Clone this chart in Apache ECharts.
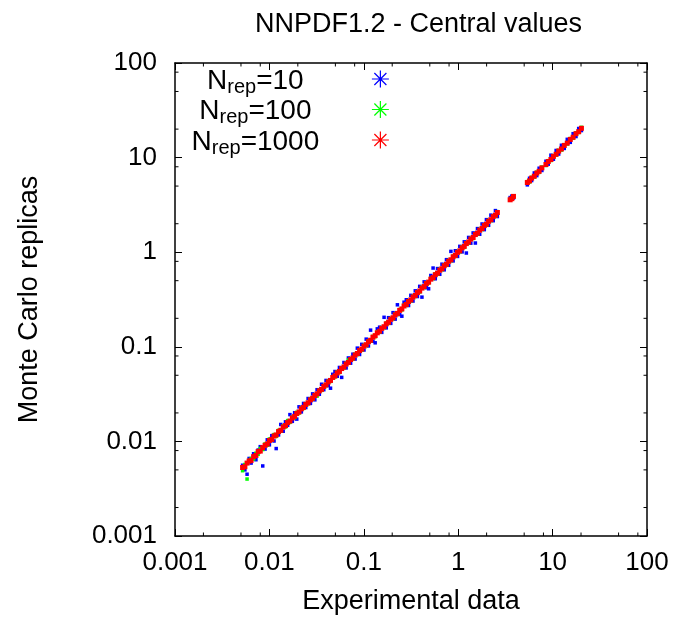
<!DOCTYPE html>
<html><head><meta charset="utf-8">
<script src="https://cdn.jsdelivr.net/npm/echarts@6/dist/echarts.min.js"></script>
<style>html,body{margin:0;padding:0;background:#fff}#c{width:677px;height:619px}</style>
</head><body><div id="c"></div>
<script>
// Experimental data values (x) shared by all three replica sets
const expData = [0.0052,0.0055,0.0058,0.0061,0.0064,0.0068,0.0072,0.0076,0.008,0.0085,
0.009,0.0095,0.010,0.0106,0.0112,0.0118,0.0125,0.0132,0.014,0.0148,
0.0156,0.0165,0.0175,0.0185,0.0195,0.0206,0.0218,0.023,0.0243,0.0257,
0.0272,0.0287,0.0303,0.032,0.0338,0.0357,0.0377,0.0398,0.042,0.0444,
0.0469,0.0495,0.0523,0.0552,0.0583,0.0616,0.065,0.0687,0.0725,0.0766,
0.0809,0.0854,0.0902,0.0952,0.1005,0.106,0.112,0.118,0.125,0.132,
0.139,0.147,0.155,0.164,0.173,0.183,0.193,0.204,0.215,0.227,
0.24,0.253,0.267,0.282,0.298,0.315,0.332,0.351,0.37,0.391,
0.413,0.436,0.46,0.486,0.513,0.542,0.572,0.604,0.638,0.673,
0.711,0.751,0.793,0.837,0.884,0.933,0.985,1.04,1.1,1.16,
1.22,1.29,1.36,1.44,1.52,1.6,1.69,1.79,1.89,1.99,
2.1,2.22,2.35,2.48,2.6,
3.55,3.7,3.85,5.4,5.7,6.0,6.4,6.8,7.2,7.7,
8.5,9.0,9.6,10.2,10.9,11.6,12.4,13.3,14.3,15.4,
16.5,17.7,18.9,20.2];

// Monte Carlo central values, N_rep = 10 (blue)
const rep10 = [0.0056,0.0050,0.0045,0.0066,0.0059,0.0074,0.0064,0.0081,0.0088,0.0055,
0.0083,0.0104,0.0092,0.0115,0.0101,0.0084,0.0117,0.0151,0.0128,0.0161,
0.0148,0.0192,0.0163,0.0201,0.0172,0.0232,0.0205,0.0252,0.0228,0.0284,
0.0252,0.0318,0.0275,0.0352,0.0315,0.0402,0.0352,0.0441,0.0389,0.0365,
0.0512,0.0548,0.0488,0.0605,0.0475,0.0682,0.0598,0.0762,0.0671,0.0835,
0.0742,0.0968,0.0829,0.1062,0.0925,0.1205,0.1021,0.1500,0.1145,0.1102,
0.1548,0.1612,0.1421,0.2050,0.1586,0.2031,0.1768,0.2296,0.1962,0.2780,
0.2190,0.2106,0.2961,0.3142,0.2731,0.3498,0.3046,0.3905,0.3398,0.4356,
0.3350,0.4858,0.4215,0.4105,0.5671,0.6800,0.5238,0.6712,0.5842,0.7468,
0.6512,0.8341,0.7268,1.0200,0.8095,1.0356,0.9021,1.1532,1.008,1.287,
0.980,1.432,1.246,1.598,1.250,1.776,1.548,1.987,1.731,2.209,
1.924,2.464,2.153,2.753,2.382,
3.78,3.92,3.74,5.15,6.05,5.72,6.88,6.45,7.72,7.31,
9.15,8.52,10.6,9.6,11.9,10.9,13.5,12.5,15.6,14.5,
17.9,16.7,20.3,19.3];

// Monte Carlo central values, N_rep = 100 (green)
const rep100 = [0.0049,0.0057,0.0040,0.0063,0.0066,0.0065,0.0075,0.0073,0.0084,0.0082,
0.0094,0.0091,0.0106,0.0103,0.0118,0.0113,0.0131,0.0128,0.0146,0.0142,
0.0166,0.0159,0.0181,0.0178,0.0203,0.0199,0.0226,0.0223,0.0251,0.0249,
0.0281,0.0279,0.0312,0.0301,0.0348,0.0346,0.0389,0.0387,0.0433,0.0430,
0.0484,0.0480,0.0540,0.0535,0.0601,0.0597,0.0671,0.0726,0.0748,0.0743,
0.0835,0.0828,0.0931,0.0923,0.1037,0.1028,0.1156,0.1144,0.1290,0.1280,
0.1435,0.1425,0.1600,0.1590,0.1786,0.1775,0.1992,0.1978,0.2219,0.2201,
0.2477,0.2454,0.2756,0.2735,0.3076,0.3055,0.3427,0.3404,0.3819,0.3792,
0.4263,0.4229,0.4748,0.4714,0.5295,0.5257,0.5904,0.5858,0.6585,0.6528,
0.7338,0.7284,0.8184,0.8118,0.9123,0.9050,1.0166,1.0087,1.135,1.125,
1.259,1.251,1.404,1.397,1.569,1.552,1.744,1.736,1.950,1.930,
2.167,2.153,2.425,2.406,2.683,
3.62,3.63,3.94,5.58,5.52,6.19,6.21,7.01,6.98,7.95,
8.25,9.28,9.31,10.5,10.6,11.95,12.0,13.7,13.9,15.9,
16.0,18.3,18.4,20.9];

// Monte Carlo central values, N_rep = 1000 (red)
const rep1000 = [0.0053,0.0054,0.0059,0.0062,0.0063,0.0069,0.0071,0.0078,0.0079,0.0086,
0.0091,0.0094,0.0102,0.0105,0.0114,0.0117,0.0127,0.0131,0.0142,0.0147,
0.0158,0.0164,0.0177,0.0184,0.0197,0.0205,0.0221,0.0229,0.0246,0.0256,
0.0275,0.0286,0.0306,0.0318,0.0342,0.0355,0.0381,0.0396,0.0425,0.0441,
0.0474,0.0492,0.0529,0.0549,0.0589,0.0612,0.0657,0.0683,0.0733,0.0761,
0.0818,0.0849,0.0912,0.0946,0.1016,0.1053,0.1132,0.1173,0.1264,0.1312,
0.1405,0.1461,0.1567,0.1630,0.1749,0.1819,0.1951,0.2028,0.2174,0.2256,
0.2427,0.2515,0.2700,0.2803,0.3013,0.3131,0.3357,0.3489,0.3741,0.3887,
0.4176,0.4334,0.4651,0.4831,0.5187,0.5388,0.5783,0.6004,0.6450,0.6690,
0.7188,0.7465,0.8017,0.8320,0.8937,0.9274,0.9958,1.0338,1.112,1.153,
1.233,1.282,1.375,1.431,1.537,1.590,1.708,1.779,1.911,1.978,
2.123,2.207,2.376,2.465,2.628,
3.58,3.68,3.89,5.45,5.67,6.07,6.36,6.87,7.16,7.79,
8.45,9.10,9.55,10.3,10.84,11.72,12.33,13.45,14.22,15.57,
16.41,17.9,18.8,20.4];

const repCounts = ['10', '100', '1000'];
const xTickLabels = ['0.001', '0.01', '0.1', '1', '10', '100'];
const yTickLabels = ['0.001', '0.01', '0.1', '1', '10', '100'];
const xMinorTicks = [0.002,0.005,0.008,0.02,0.05,0.08,0.2,0.5,0.8,2,5,8,20,50,80];
const yMinorTicks = [0.002,0.005,0.008,0.02,0.05,0.08,0.2,0.5,0.8,2,5,8,20,50,80];

const FONT = "'Liberation Sans', Arial, Helvetica, sans-serif";
const colors = ['#0000ff', '#00ff00', '#ff0000'];
const values = [rep10, rep100, rep1000];
const symSizes = [3.5, 3.5, 5];
const names = repCounts.map(n => 'N_rep=' + n);
const AX_MIN = 0.001, AX_MAX = 100;
const starIcon = 'path://M8,0L8,16M0,8L16,8M2.34,2.34L13.66,13.66M2.34,13.66L13.66,2.34';

const chart = echarts.init(document.getElementById('c'), null, {renderer: 'canvas'});

const scatterSeries = values.map((arr, i) => ({
  name: names[i],
  type: 'scatter',
  xAxisIndex: 0, yAxisIndex: 0,
  symbol: 'rect',
  symbolSize: symSizes[i],
  itemStyle: {color: colors[i], borderColor: colors[i], borderWidth: 0, opacity: 1},
  emphasis: {disabled: true},
  data: expData.map((x, k) => [x, arr[k]]),
  z: 3 + i
}));

const tickLen = 3.5;
const xMinorSeries = {
  type: 'custom', silent: true, xAxisIndex: 0, yAxisIndex: 0, z: 10, clip: false,
  data: xMinorTicks.map(v => [v, 1]),
  renderItem: function (params, api) {
    const v = api.value(0);
    const b = api.coord([v, AX_MIN]);
    const t = api.coord([v, AX_MAX]);
    const st = {stroke: '#000', lineWidth: 1};
    return {type: 'group', children: [
      {type: 'line', shape: {x1: b[0], y1: b[1], x2: b[0], y2: b[1] - tickLen}, style: st},
      {type: 'line', shape: {x1: t[0], y1: t[1], x2: t[0], y2: t[1] + tickLen}, style: st}
    ]};
  }
};
const yMinorSeries = {
  type: 'custom', silent: true, xAxisIndex: 0, yAxisIndex: 0, z: 10, clip: false,
  data: yMinorTicks.map(v => [1, v]),
  renderItem: function (params, api) {
    const v = api.value(1);
    const l = api.coord([AX_MIN, v]);
    const r = api.coord([AX_MAX, v]);
    const st = {stroke: '#000', lineWidth: 1};
    return {type: 'group', children: [
      {type: 'line', shape: {x1: l[0], y1: l[1], x2: l[0] + tickLen, y2: l[1]}, style: st},
      {type: 'line', shape: {x1: r[0], y1: r[1], x2: r[0] - tickLen, y2: r[1]}, style: st}
    ]};
  }
};

const axisLineStyle = {show: true, onZero: false, lineStyle: {color: '#000', width: 1.5}};
const majorTick = {show: true, inside: true, length: 7, lineStyle: {color: '#000', width: 1}};
const labelStyle = {color: '#000', fontSize: 26, fontFamily: FONT};

const option = {
  animation: false,
  backgroundColor: '#fff',
  textStyle: {fontFamily: FONT},
  title: {
    text: 'NNPDF1.2 - Central values',
    left: 250, top: 6,
    textStyle: {fontSize: 27, fontWeight: 'normal', color: '#000', fontFamily: FONT}
  },
  grid: {left: 175, top: 63, width: 472, height: 473, containLabel: false, outerBoundsMode: 'none', show: false},
  legend: {
    orient: 'vertical',
    left: 186.5, top: 62,
    align: 'right',
    itemGap: 0.5,
    itemWidth: 17, itemHeight: 17,
    padding: 5,
    selectedMode: false,
    data: names.map((n, i) => ({
      name: n, icon: starIcon,
      itemStyle: {color: 'rgba(0,0,0,0)', borderColor: colors[i], borderWidth: 1.2}
    })),
    formatter: function (name) {
      return '{n|N}{s|rep}{n|=' + name.split('=')[1] + '}';
    },
    textStyle: {
      width: 223, color: '#000', fontSize: 28, fontFamily: FONT,
      rich: {
        n: {fontSize: 28, lineHeight: 24, verticalAlign: 'top', align: 'center', color: '#000', fontFamily: FONT},
        s: {fontSize: 20, lineHeight: 19, padding: [10, 0, 0, 0], verticalAlign: 'top', align: 'center', color: '#000', fontFamily: FONT}
      }
    }
  },
  xAxis: [{
    type: 'log', logBase: 10, min: AX_MIN, max: AX_MAX, position: 'bottom',
    name: 'Experimental data', nameLocation: 'middle', nameGap: 52,
    nameTextStyle: {color: '#000', fontSize: 27, fontFamily: FONT},
    axisLine: axisLineStyle, axisTick: majorTick,
    minorTick: {show: false}, splitLine: {show: false}, minorSplitLine: {show: false},
    axisLabel: Object.assign({margin: 14, formatter: (v, i) => xTickLabels[i]}, labelStyle)
  }, {
    type: 'log', logBase: 10, min: AX_MIN, max: AX_MAX, position: 'top',
    axisLine: axisLineStyle, axisTick: majorTick,
    splitLine: {show: false}, axisLabel: {show: false}
  }],
  yAxis: [{
    type: 'log', logBase: 10, min: AX_MIN, max: AX_MAX, position: 'left',
    name: 'Monte Carlo replicas', nameLocation: 'middle', nameGap: 132, nameRotate: 90,
    nameTextStyle: {color: '#000', fontSize: 27, fontFamily: FONT},
    axisLine: axisLineStyle, axisTick: majorTick,
    minorTick: {show: false}, splitLine: {show: false}, minorSplitLine: {show: false},
    axisLabel: Object.assign({margin: 18, formatter: (v, i) => yTickLabels[i]}, labelStyle)
  }, {
    type: 'log', logBase: 10, min: AX_MIN, max: AX_MAX, position: 'right',
    axisLine: axisLineStyle, axisTick: majorTick,
    splitLine: {show: false}, axisLabel: {show: false}
  }],
  series: scatterSeries.concat([xMinorSeries, yMinorSeries])
};
chart.setOption(option);
</script>
</body></html>
